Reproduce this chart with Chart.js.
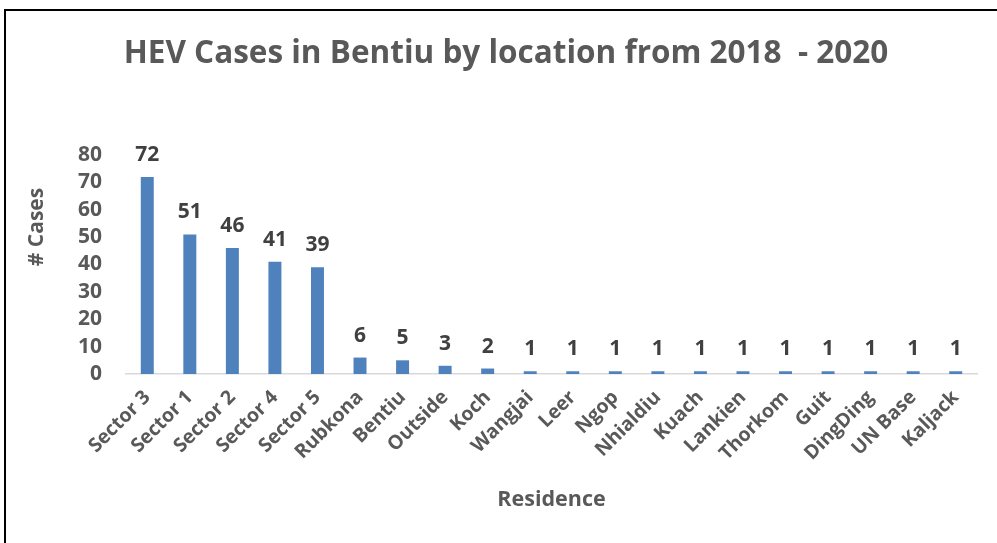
<!DOCTYPE html>
<html>
<head>
<meta charset="utf-8">
<script src="https://cdn.jsdelivr.net/npm/chart.js@4/dist/chart.umd.min.js"></script>
<style>
  html, body { margin: 0; padding: 0; background: #fff; }
  #wrap { position: relative; width: 997px; height: 543px; overflow: hidden; }
  #frame { position: absolute; left: 4px; top: 9px; width: 1100px; height: 600px;
           border-left: 2px solid #000; border-top: 2px solid #000; pointer-events: none; }
</style>
</head>
<body>
<div id="wrap">
  <canvas id="c" width="997" height="543"></canvas>
  <div id="frame"></div>
</div>
<script>
const chartTitle = "HEV Cases in Bentiu by location from 2018  - 2020";
const yAxisTitle = "# Cases";
const xAxisTitle = "Residence";
const categories = ["Sector 3","Sector 1","Sector 2","Sector 4","Sector 5","Rubkona","Bentiu","Outside","Koch","Wangjai","Leer","Ngop","Nhialdiu","Kuach","Lankien","Thorkom","Guit","DingDing","UN Base","Kaljack"];
const cases = [72,51,46,41,39,6,5,3,2,1,1,1,1,1,1,1,1,1,1,1];
const yTicks = [0,10,20,30,40,50,60,70,80];

const FONT = "'Open Sans', 'Liberation Sans', sans-serif";
const GRAY = '#595959';

const textPlugin = {
  id: 'texts',
  afterDraw(chart) {
    const ctx = chart.ctx;
    ctx.save();
    // main title
    ctx.fillStyle = GRAY;
    ctx.font = "bold 31.5px " + FONT;
    ctx.textAlign = 'center';
    ctx.textBaseline = 'middle';
    ctx.fillText(chartTitle, 506, 54);
    // y axis title
    ctx.save();
    ctx.translate(37, 227);
    ctx.rotate(-Math.PI / 2);
    ctx.font = "bold 21px " + FONT;
    ctx.fillText(yAxisTitle, 0, 0);
    ctx.restore();
    // data labels
    const meta = chart.getDatasetMeta(0);
    ctx.fillStyle = '#404040';
    ctx.font = "bold 21px " + FONT;
    ctx.textBaseline = 'alphabetic';
    meta.data.forEach((bar, i) => {
      ctx.fillText(String(chart.data.datasets[0].data[i]), bar.x, bar.y - 16);
    });
    ctx.restore();
  }
};

new Chart(document.getElementById('c'), {
  type: 'bar',
  data: {
    labels: categories,
    datasets: [{
      data: cases,
      backgroundColor: '#4F81BD',
      borderWidth: 0,
      barPercentage: 0.305,
      categoryPercentage: 1.0
    }]
  },
  options: {
    responsive: false,
    animation: false,
    devicePixelRatio: 1,
    layout: { padding: { top: 155, right: 20, left: 0, bottom: 0 } },
    plugins: {
      legend: { display: false },
      tooltip: { enabled: false },
      title: { display: false }
    },
    scales: {
      x: {
        grid: { display: false, drawTicks: false },
        border: { display: true, color: '#D9D9D9', width: 1.5 },
        ticks: {
          color: GRAY,
          font: { family: FONT, size: 19.5, weight: 'bold' },
          minRotation: 45, maxRotation: 45,
          autoSkip: false,
          padding: 12
        },
        title: {
          display: true,
          text: xAxisTitle,
          color: GRAY,
          font: { family: FONT, size: 21.5, weight: 'bold' },
          padding: { top: 0, bottom: 30 }
        },
        afterFit(s) { s.height = 169; }
      },
      y: {
        min: 0, max: 80,
        grid: { display: false, drawTicks: false },
        border: { display: false },
        afterBuildTicks(s) { s.ticks = yTicks.map(v => ({ value: v })); },
        ticks: {
          color: GRAY,
          font: { family: FONT, size: 21, weight: 'bold' },
          padding: 24,
          autoSkip: false
        },
        afterFit(s) { s.width = 126; }
      }
    }
  },
  plugins: [textPlugin]
});
</script>
</body>
</html>
